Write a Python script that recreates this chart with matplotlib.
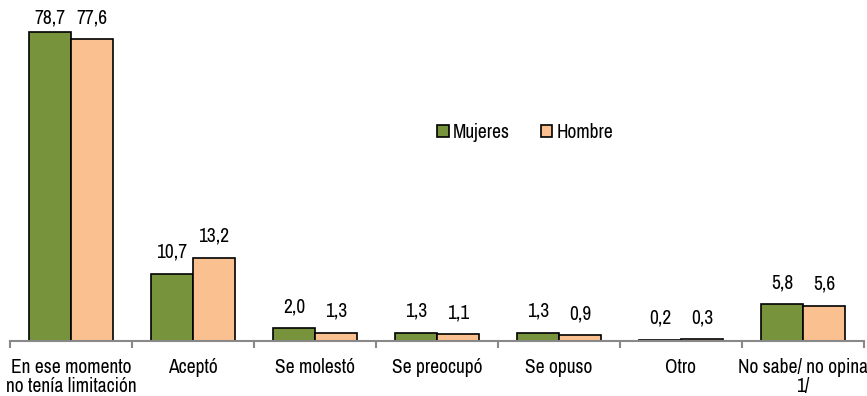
import matplotlib
matplotlib.use("Agg")
import matplotlib.pyplot as plt
from matplotlib import font_manager
import numpy as np

categories = ["En ese momento\nno tenía limitación", "Aceptó", "Se molestó", "Se preocupó",
              "Se opuso", "Otro", "No sabe/ no opina\n1/"]
mujeres = [78.7, 10.7, 2.0, 1.3, 1.3, 0.2, 5.8]
hombre = [77.6, 13.2, 1.3, 1.1, 0.9, 0.3, 5.6]
series_names = ["Mujeres", "Hombre"]

names = {f.name for f in font_manager.fontManager.ttflist}
fam = "Liberation Sans"
for cand in ["Arial Narrow", "Liberation Sans Narrow", "Archivo Narrow", "Roboto Condensed",
             "Arimo Narrow", "PT Sans Narrow", "Open Sans Condensed"]:
    if cand in names:
        fam = cand
        break
plt.rcParams['font.family'] = [fam, 'DejaVu Sans']

# broken value axis: the range between BREAK and BREAK+GAP is skipped
BREAK, GAP = 40.0, 29.7
def fwd(y):
    y = np.asarray(y, dtype=float)
    return np.where(y <= BREAK, y, np.where(y < BREAK + GAP, BREAK, y - GAP))
def inv(u):
    u = np.asarray(u, dtype=float)
    return np.where(u <= BREAK, u, u + GAP)

W, H = 867, 396
fig = plt.figure(figsize=(W/100, H/100), dpi=100)
ax = fig.add_axes([10/W, 55/H, 854/W, 315/H])
ax.set_yscale("function", functions=(fwd, inv))

x = np.arange(len(categories))
w = 0.344
b1 = ax.bar(x - w/2, mujeres, w, color="#77933C", edgecolor="black", linewidth=1.2, label=series_names[0])
b2 = ax.bar(x + w/2, hombre, w, color="#FAC090", edgecolor="black", linewidth=1.2, label=series_names[1])

fs = 14 if fam != "Liberation Sans" else 12

ax.set_xlim(-0.5, len(categories) - 0.5)
ax.set_ylim(0, 50 + GAP)
ax.set_yticks([])
ax.yaxis.set_minor_locator(matplotlib.ticker.NullLocator())
for s in ("top", "right", "left"):
    ax.spines[s].set_visible(False)
ax.spines["bottom"].set_color("#888888")
ax.spines["bottom"].set_linewidth(1.5)
ax.set_xticks(x)
ax.set_xticklabels(categories, fontsize=fs, linespacing=1.0)
ax.tick_params(axis="x", length=0, pad=12.5)
ax.set_xticks(np.arange(len(categories) + 1) - 0.5, minor=True)
ax.tick_params(axis="x", which="minor", length=5, color="#888888", width=1.5)

# value labels: baseline ~16 px above the bar, kept below the top of the figure
for bars, vals in ((b1, mujeres), (b2, hombre)):
    for r, v in zip(bars, vals):
        xc = r.get_x() + r.get_width()/2
        px, py = ax.transData.transform((xc, v))
        yl = min(py + 16, H - 24)
        ax.annotate(f"{v:.1f}".replace(".", ","), (xc, v), xytext=(px, yl),
                    textcoords="figure pixels", ha="center", va="baseline", fontsize=fs)

ax.legend(loc="center", bbox_to_anchor=(0.603, 0.663), ncol=2, frameon=False, fontsize=fs,
          handlelength=0.6, handleheight=0.6, handletextpad=0.2, columnspacing=1.6)

fig.savefig("out.png", dpi=100)
